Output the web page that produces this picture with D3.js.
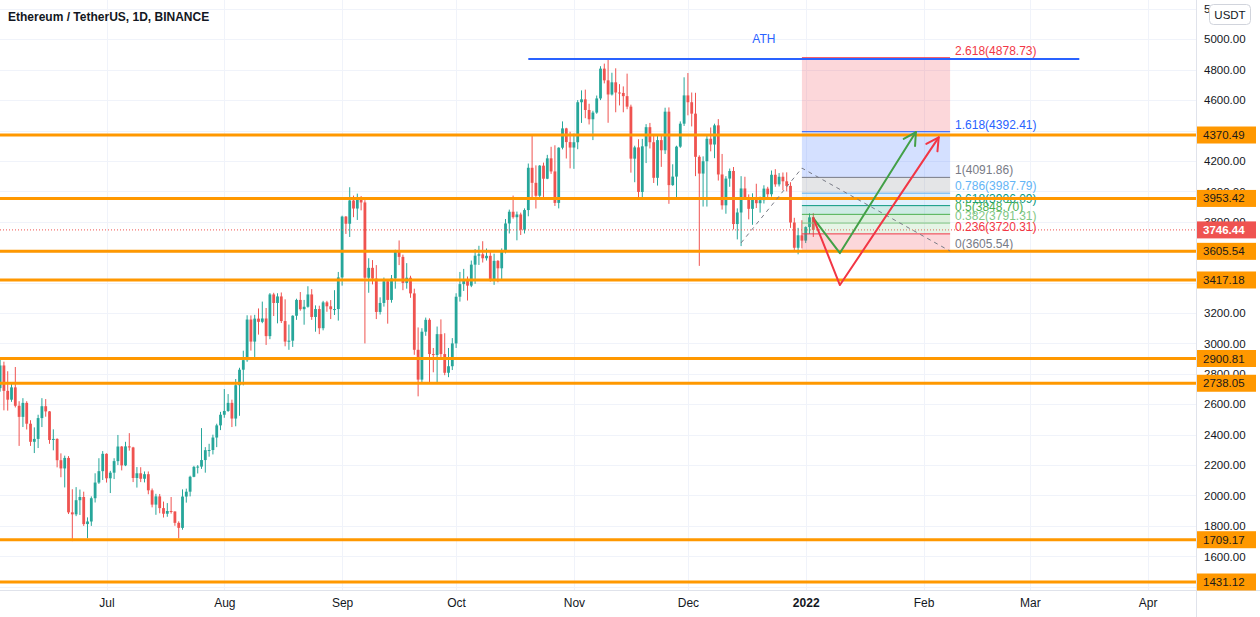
<!DOCTYPE html>
<html><head><meta charset="utf-8">
<script src="https://cdn.jsdelivr.net/npm/d3@7"></script>
<style>html,body{margin:0;padding:0;background:#fff;overflow:hidden}svg{display:block;font-family:"Liberation Sans",Arial,sans-serif}</style>
</head><body><svg id="c" width="1260" height="617"></svg>
<script>
// ---------------- DATA ----------------
const title = "Ethereum / TetherUS, 1D, BINANCE";
const firstCandle = "2021-06-03"; // daily candles, one per day
const opens = [
  2706,2855,2688,2630,2711,2590,2517,2609,2472,2353,2372,2509,2587,2553,2365,2372,2232,2178,2247,1889,1876,1969,1990,1812,1829,1982,2085,2160,
  2274,2113,2150,2226,2322,2198,2323,2316,2115,2146,2110,2140,2034,1940,1994,1917,1880,1898,1895,1820,1787,1993,2025,2123,2188,2190,2233,2298,2299,2381,2461,
  2531,2556,2609,2506,2725,2827,2890,3157,3012,3163,3142,3164,3048,3322,3266,3309,3147,3012,3018,3182,3286,3225,3241,3322,3174,3226,3100,3270,3244,3225,3226,
  3434,3834,3787,3940,3887,3952,3927,3432,3497,3426,3207,3266,3409,3286,3427,3612,3569,3398,3432,3329,2958,2762,3077,3155,2930,2924,3061,2930,2807,2850,
  3000,3307,3390,3418,3380,3518,3577,3586,3560,3576,3415,3543,3494,3603,3789,3866,3830,3848,3748,3877,4155,4056,3971,4169,4083,4217,4131,3924,4287,4414,4324,
  4288,4323,4586,4605,4535,4474,4518,4611,4807,4730,4637,4717,4650,4647,4626,4557,4215,4289,3996,4296,4422,4323,4089,4337,4270,4524,4041,4097,4294,4445,
  4631,4586,4511,4227,4117,4198,4346,4308,4434,4111,3908,4084,4134,3785,3861,4019,3960,3885,3958,3922,3942,4018,3981,4109,4046,4096,4066,4036,3795,3629,3711,
  3676,3765,3829
];
const highs = [
  2891,2880,2817,2743,2845,2620,2640,2620,2495,2448,2531,2640,2634,2555,2435,2376,2277,2262,2259,2041,2055,2039,2025,1856,1994,2146,2245,2292,
  2277,2162,2245,2398,2325,2353,2410,2320,2187,2186,2158,2158,2046,2011,2010,1960,1950,1990,1895,1830,2040,2045,2130,2195,2200,2443,2318,2340,2400,2472,2550,
  2700,2667,2630,2766,2840,2952,3185,3184,3188,3230,3275,3233,3331,3333,3330,3335,3290,3124,3185,3294,3338,3286,3376,3357,3250,3248,3280,3280,3285,3350,3470,
  3840,3838,4027,3972,3985,3969,3942,3560,3548,3515,3303,3433,3413,3450,3616,3677,3584,3528,3445,3360,3105,3100,3170,3165,2970,3111,3158,3067,2970,3035,
  3330,3470,3490,3440,3545,3620,3642,3672,3624,3613,3590,3548,3625,3818,3880,3972,3867,3860,3888,4183,4375,4171,4173,4189,4240,4293,4303,4290,4460,4418,4392,
  4380,4600,4664,4669,4576,4530,4630,4823,4840,4868,4780,4809,4705,4690,4774,4570,4300,4343,4345,4442,4450,4370,4375,4370,4550,4552,4178,4300,4460,4750,
  4778,4650,4648,4237,4230,4374,4420,4445,4475,4246,4100,4150,4160,3888,4100,4096,3980,3987,4050,3965,4040,4030,4137,4146,4120,4124,4125,4060,3826,3760,3810,
  3770,3855,3856
];
const lows = [
  2683,2560,2558,2616,2579,2326,2450,2434,2326,2279,2312,2450,2518,2340,2297,2185,2120,2053,1878,1700,1864,1872,1800,1719,1800,1954,2076,2102,
  2085,2016,2108,2200,2165,2193,2295,2088,2052,2088,2086,2008,1922,1873,1883,1855,1860,1881,1801,1718,1775,1953,1994,2120,2145,2175,2150,2255,2270,2318,2430,
  2511,2550,2450,2455,2524,2724,2879,2953,2900,3058,3133,2990,3028,3180,3132,3134,2981,2958,2977,3155,3215,3123,3235,3155,3077,3061,3086,3208,3160,3187,3150,
  3380,3720,3700,3830,3812,3875,3000,3333,3388,3160,3190,3242,3130,3268,3360,3515,3350,3360,3300,2925,2652,2740,3050,2740,2810,2740,2910,2791,2778,2825,
  2970,3275,3345,3282,3370,3392,3516,3532,3545,3406,3385,3402,3420,3592,3723,3820,3678,3713,3723,3836,3950,3887,3945,3960,4080,4115,3904,3888,4276,4216,4151,
  4148,4277,4450,4481,4440,4337,4510,4600,4710,4451,4630,4520,4565,4520,4540,4123,4060,3960,3950,4186,4282,4055,4038,4161,4246,3918,4036,3950,4286,4430,
  4500,4427,4100,3510,3900,3900,4263,4218,4071,3880,3853,4030,3750,3684,3640,3950,3816,3780,3890,3860,3920,3955,3965,4030,4032,4007,4000,3760,3610,3586,3625,
  3660,3720,3700
];
const closes = [
  2855,2688,2630,2711,2590,2517,2609,2472,2353,2372,2509,2587,2553,2365,2372,2232,2178,2247,1889,1876,1969,1990,1812,1829,1982,2085,2160,2274,
  2113,2150,2226,2322,2198,2323,2316,2115,2146,2110,2140,2034,1940,1994,1917,1880,1898,1895,1820,1787,1993,2025,2123,2188,2190,2233,2298,2299,2381,2461,2531,
  2556,2609,2506,2725,2827,2890,3157,3012,3163,3142,3164,3048,3322,3266,3309,3147,3012,3018,3182,3286,3225,3241,3322,3174,3226,3100,3270,3244,3225,3226,3434,
  3834,3787,3940,3887,3952,3927,3432,3497,3426,3207,3266,3409,3286,3427,3612,3569,3398,3432,3329,2958,2762,3077,3155,2930,2924,3061,2930,2807,2850,3000,
  3307,3390,3418,3380,3518,3577,3586,3560,3576,3415,3543,3494,3603,3789,3866,3830,3848,3748,3877,4155,4056,3971,4169,4083,4217,4131,3924,4287,4414,4324,4288,
  4323,4586,4605,4535,4474,4518,4611,4807,4730,4637,4717,4650,4647,4626,4557,4215,4289,3996,4296,4422,4323,4089,4337,4270,4524,4041,4097,4294,4445,4631,
  4586,4511,4227,4117,4198,4346,4308,4434,4111,3908,4084,4134,3785,3861,4019,3960,3885,3958,3922,3942,4018,3981,4109,4046,4096,4066,4036,3795,3629,3711,3676,
  3765,3829,3746.44
];
const lastPrice = 3746.44;
const levelPrices = [4370.49, 3953.42, 3605.54, 3417.18, 2900.81, 2738.05, 1709.17, 1431.12];
const fibRatios = ["2.618","1.618","1","0.786","0.618","0.5","0.382","0.236","0"];
const fibPrices = [4878.73, 4392.41, 4091.86, 3987.79, 3906.09, 3848.70, 3791.31, 3720.31, 3605.54];
const fibColors = ["#f23645","#2962ff","#787b86","#64b5f6","#089981","#4caf50","#81c784","#f23645","#787b86"];
const fibStart = "2021-12-31", fibEnd = "2022-02-08";
const athPrice = 4870, athStart = "2021-10-20", athEnd = "2022-03-14", athLabelDate = "2021-12-21", athLabelPrice = 5000;
const dashedPath = [["2021-12-15", 3661], ["2021-12-31", 4153], ["2022-02-08", 3607]];
const greenPath = [["2022-01-03", 3824], ["2022-01-10", 3594], ["2022-01-30", 4390]];
const redPath = [["2022-01-03", 3824], ["2022-01-10", 3384], ["2022-02-05", 4355]];
const gridTicks = [1400,1600,1800,2000,2200,2400,2600,2800,3000,3200,3400,3600,3800,4000,4200,4400,4600,4800,5000,5200];
const priceTickLabels = [1600,1800,2000,2200,2400,2600,2800,3000,3200,3800,4000,4200,4400,4600,4800,5000,5200];
const monthTicks = ["2021-07-01","2021-08-01","2021-09-01","2021-10-01","2021-11-01","2021-12-01","2022-01-01","2022-02-01","2022-03-01","2022-04-01"];
const monthLabels = ["Jul","Aug","Sep","Oct","Nov","Dec","2022","Feb","Mar","Apr"];
const viewStart = "2021-06-02T23:17:00Z", viewEnd = "2022-04-13T17:02:00Z";
const viewLow = 1378.5, viewHigh = 5258.3;

// ---------------- LAYOUT ----------------
const W = 1260, H = 617, plotR = 1196, plotB = 590;
const UP = "#26a69a", DOWN = "#ef5350", ORANGE = "#ff9800";
const svg = d3.select("#c");
const pd = s => new Date(s.length === 10 ? s + "T00:00:00Z" : s);
const x = d3.scaleUtc().domain([pd(viewStart), pd(viewEnd)]).range([0, plotR]);
const y = d3.scaleLinear().domain([viewLow, viewHigh]).range([plotB, 0]);

const dates = opens.map((_, i) => d3.utcDay.offset(pd(firstCandle), i));

svg.append("defs").append("clipPath").attr("id", "plot")
  .append("rect").attr("x", 0).attr("y", 0).attr("width", plotR).attr("height", plotB);
const g = svg.append("g").attr("clip-path", "url(#plot)");

// grid
g.selectAll(".vg").data(monthTicks).join("line")
  .attr("x1", d => Math.round(x(pd(d))) + 0.5).attr("x2", d => Math.round(x(pd(d))) + 0.5)
  .attr("y1", 0).attr("y2", plotB).attr("stroke", "#f0f3fa").attr("stroke-width", 1);
g.selectAll(".hg").data(gridTicks).join("line")
  .attr("x1", 0).attr("x2", plotR)
  .attr("y1", d => Math.round(y(d)) + 0.5).attr("y2", d => Math.round(y(d)) + 0.5)
  .attr("stroke", "#f0f3fa").attr("stroke-width", 1);

// candles
const bw = 2.8;
const cg = g.append("g");
dates.forEach((d, i) => {
  const cx = x(d), o = opens[i], c = closes[i];
  const col = c >= o ? UP : DOWN;
  cg.append("line").attr("x1", cx).attr("x2", cx).attr("y1", y(highs[i])).attr("y2", y(lows[i]))
    .attr("stroke", col).attr("stroke-width", 1);
  const top = y(Math.max(o, c)), bot = y(Math.min(o, c));
  cg.append("rect").attr("x", cx - bw / 2).attr("width", bw)
    .attr("y", top).attr("height", Math.max(1, bot - top)).attr("fill", col);
});

// current price dotted line
g.append("line").attr("x1", 0).attr("x2", plotR).attr("y1", y(lastPrice)).attr("y2", y(lastPrice))
  .attr("stroke", DOWN).attr("stroke-width", 1).attr("stroke-dasharray", "1,2");

// fib fills + lines
const fx0 = x(pd(fibStart)), fx1 = x(pd(fibEnd));
for (let i = 0; i < fibPrices.length - 1; i++) {
  g.append("rect").attr("x", fx0).attr("width", fx1 - fx0)
    .attr("y", y(fibPrices[i])).attr("height", y(fibPrices[i + 1]) - y(fibPrices[i]))
    .attr("fill", fibColors[i]).attr("fill-opacity", 0.2);
}
fibPrices.forEach((p, i) => {
  g.append("line").attr("x1", fx0).attr("x2", fx1).attr("y1", y(p)).attr("y2", y(p))
    .attr("stroke", fibColors[i]).attr("stroke-width", 1);
  g.append("text").attr("x", fx1 + 5).attr("y", y(p) - 3)
    .attr("fill", fibColors[i]).attr("font-size", 12)
    .text(fibRatios[i] + "(" + p.toFixed(2) + ")");
});

// horizontal orange levels
levelPrices.forEach(p => {
  g.append("line").attr("x1", 0).attr("x2", plotR).attr("y1", y(p)).attr("y2", y(p))
    .attr("stroke", ORANGE).attr("stroke-width", 3);
});

// ATH line
g.append("line").attr("x1", x(pd(athStart))).attr("x2", x(pd(athEnd)))
  .attr("y1", y(athPrice)).attr("y2", y(athPrice)).attr("stroke", "#2962ff").attr("stroke-width", 2);
g.append("text").attr("x", x(pd(athLabelDate))).attr("y", y(athLabelPrice))
  .attr("dy", "0.35em").attr("text-anchor", "middle").attr("fill", "#2962ff").attr("font-size", 12).text("ATH");

// dashed trend
const line = d3.line().x(d => x(pd(d[0]))).y(d => y(d[1]));
g.append("path").attr("d", line(dashedPath)).attr("fill", "none")
  .attr("stroke", "#787b86").attr("stroke-width", 1).attr("stroke-dasharray", "4,4");

// arrows
function arrow(pts, col) {
  g.append("path").attr("d", line(pts)).attr("fill", "none").attr("stroke", col)
    .attr("stroke-width", 2).attr("stroke-linejoin", "round").attr("stroke-linecap", "round");
  const a = pts[pts.length - 2], b = pts[pts.length - 1];
  const ax = x(pd(a[0])), ay = y(a[1]), bx = x(pd(b[0])), by = y(b[1]);
  const ang = Math.atan2(by - ay, bx - ax), L = 14, s = 0.5;
  const p1 = [bx - L * Math.cos(ang - s), by - L * Math.sin(ang - s)];
  const p2 = [bx - L * Math.cos(ang + s), by - L * Math.sin(ang + s)];
  g.append("path").attr("d", `M${p1[0]},${p1[1]}L${bx},${by}L${p2[0]},${p2[1]}`)
    .attr("fill", "none").attr("stroke", col).attr("stroke-width", 2)
    .attr("stroke-linejoin", "round").attr("stroke-linecap", "round");
}
arrow(greenPath, "#43a047");
arrow(redPath, "#f23645");

// title
svg.append("text").attr("x", 8).attr("y", 21).attr("font-size", 12).attr("font-weight", "bold")
  .attr("fill", "#131722").text(title);

// price axis
svg.append("rect").attr("x", plotR).attr("y", 0).attr("width", W - plotR).attr("height", H).attr("fill", "#fff");
svg.append("rect").attr("x", 0).attr("y", plotB).attr("width", plotR).attr("height", H - plotB).attr("fill", "#fff");
svg.append("line").attr("x1", plotR + 0.5).attr("x2", plotR + 0.5).attr("y1", 0).attr("y2", H).attr("stroke", "#e0e3eb");
svg.append("line").attr("x1", 0).attr("x2", W).attr("y1", plotB + 0.5).attr("y2", plotB + 0.5).attr("stroke", "#e0e3eb");

const yAxis = d3.axisRight(y).tickValues(priceTickLabels).tickSize(0).tickPadding(0).tickFormat(d3.format(".2f"));
const ya = svg.append("g").attr("transform", `translate(${plotR + 8},0)`).call(yAxis);
ya.select(".domain").remove();
ya.selectAll("text").attr("font-size", 11.5).attr("fill", "#131722").attr("font-family", '"Liberation Sans",Arial,sans-serif');

// level labels on axis
levelPrices.forEach(p => {
  svg.append("rect").attr("x", plotR + 1).attr("y", y(p) - 8.5).attr("width", 59).attr("height", 17).attr("fill", ORANGE);
  svg.append("text").attr("x", plotR + 7).attr("y", y(p)).attr("dy", "0.35em").attr("font-size", 11.5)
    .attr("fill", "#1a1a1a").text(p.toFixed(2));
});
svg.append("rect").attr("x", plotR + 1).attr("y", y(lastPrice) - 8.5).attr("width", 59).attr("height", 17).attr("fill", DOWN);
svg.append("text").attr("x", plotR + 7).attr("y", y(lastPrice)).attr("dy", "0.35em").attr("font-size", 11.5)
  .attr("font-weight", "bold").attr("fill", "#fff").text(lastPrice.toFixed(2));

// currency box
svg.append("rect").attr("x", 1209.5).attr("y", 4.5).attr("width", 41).attr("height", 20).attr("rx", 4)
  .attr("fill", "#fff").attr("stroke", "#d1d4dc");
svg.append("text").attr("x", 1230).attr("y", 14.5).attr("dy", "0.35em").attr("text-anchor", "middle")
  .attr("font-size", 11.5).attr("fill", "#131722").text("USDT");

// time axis
const xAxis = d3.axisBottom(x).tickValues(monthTicks.map(pd)).tickSize(0).tickPadding(0)
  .tickFormat((d, i) => monthLabels[i]);
const xa = svg.append("g").attr("transform", `translate(0,${plotB + 8})`).call(xAxis);
xa.select(".domain").remove();
xa.selectAll("text").attr("font-size", 12).attr("fill", "#131722").attr("font-family", '"Liberation Sans",Arial,sans-serif')
  .attr("font-weight", (d, i) => monthLabels[i] === "2022" ? "bold" : "normal");
</script>
</body></html>
